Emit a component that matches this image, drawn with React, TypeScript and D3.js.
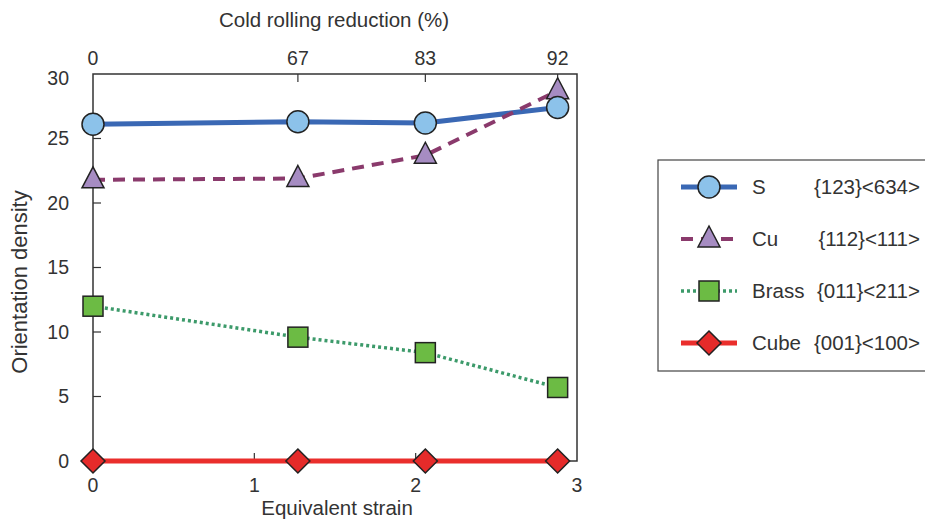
import * as d3 from "d3";

const strain = [0, 1.27, 2.06, 2.88];
const reduction = ["0", "67", "83", "92"];
const sValues = [26.1, 26.3, 26.2, 27.4];
const cuValues = [21.8, 21.9, 23.7, 28.7];
const brassValues = [12.0, 9.6, 8.4, 5.7];
const cubeValues = [0, 0, 0, 0];
const yTicks = [0, 5, 10, 15, 20, 25, 30];
const xTicks = [0, 1, 2, 3];

type Series = {
  name: string;
  code: string;
  values: number[];
  stroke: string;
  fill: string;
  width: number;
  dash?: string;
  marker: "circle" | "triangle" | "square" | "diamond";
};

const series: Series[] = [
  { name: "S", code: "{123}<634>", values: sValues, stroke: "#3a68b4", fill: "#8cc2ea", width: 5, marker: "circle" },
  { name: "Cu", code: "{112}<111>", values: cuValues, stroke: "#8a3a6c", fill: "#a68cc2", width: 4, dash: "12,8", marker: "triangle" },
  { name: "Brass", code: "{011}<211>", values: brassValues, stroke: "#3c9a6a", fill: "#6cbb44", width: 3.5, dash: "3,3", marker: "square" },
  { name: "Cube", code: "{001}<100>", values: cubeValues, stroke: "#ea2e2c", fill: "#e52b2a", width: 5, marker: "diamond" },
];

const Marker: React.FC<{ kind: Series["marker"]; x: number; y: number; fill: string }> = ({ kind, x, y, fill }) => {
  const common = { fill, stroke: "#222", strokeWidth: 1.5 };
  if (kind === "circle") return <circle cx={x} cy={y} r={11} {...common} />;
  if (kind === "square") return <rect x={x - 10} y={y - 10} width={20} height={20} {...common} />;
  if (kind === "triangle") return <path d={`M${x},${y - 13}L${x + 11},${y + 8}L${x - 11},${y + 8}Z`} {...common} />;
  return <path d={`M${x},${y - 12}L${x + 12},${y}L${x},${y + 12}L${x - 12},${y}Z`} {...common} />;
};

const App: React.FC = () => {
  const width = 925;
  const height = 519;
  const left = 93;
  const right = 577;
  const top = 74;
  const bottom = 461;
  const x = d3.scaleLinear([0, 3], [left, right]);
  const y = d3.scaleLinear([0, 30], [bottom, top]);
  const line = d3.line<number>((_, i) => x(strain[i]), (d) => y(d));
  const textColor = "#333";
  const font = "'Liberation Sans', Arial, sans-serif";
  const tickSize = 19.5;
  const drawOrder = [3, 2, 0, 1];
  const markerOrder = [3, 2, 1, 0];

  return (
    <svg width={width} height={height} style={{ position: "absolute", left: 0, top: 0 }} fontFamily={font}>
      <rect width={width} height={height} fill="white" />
      {/* frame */}
      <rect x={left} y={top} width={right - left} height={bottom - top} fill="none" stroke="#333" strokeWidth={1.5} />
      {/* left ticks */}
      {yTicks.map((t) => (
        <g key={t}>
          {t > 0 && t < 30 && <line x1={left} x2={left + 8} y1={y(t)} y2={y(t)} stroke="#333" strokeWidth={1.2} />}
          <text x={left - 24} y={t === 30 ? y(t) + 4 : y(t)} dy="0.35em" textAnchor="end" fontSize={tickSize} fill={textColor}>{t}</text>
        </g>
      ))}
      {/* bottom ticks */}
      {xTicks.map((t) => (
        <g key={t}>
          {t > 0 && t < 3 && <line x1={x(t)} x2={x(t)} y1={bottom} y2={bottom - 8} stroke="#333" strokeWidth={1.2} />}
          <text x={x(t)} y={485} dy="0.35em" textAnchor="middle" fontSize={tickSize} fill={textColor}>{t}</text>
        </g>
      ))}
      {/* top ticks */}
      {strain.map((s, i) => (
        <g key={i}>
          {i > 0 && <line x1={x(s)} x2={x(s)} y1={top} y2={top + 8} stroke="#333" strokeWidth={1.2} />}
          <text x={x(s)} y={58} dy="0.35em" textAnchor="middle" fontSize={tickSize} fill={textColor}>{reduction[i]}</text>
        </g>
      ))}
      <text x={334} y={27} textAnchor="middle" fontSize={20.5} fill={textColor}>Cold rolling reduction (%)</text>
      <text x={337} y={515} textAnchor="middle" fontSize={20.5} fill={textColor}>Equivalent strain</text>
      <text transform="translate(27,282) rotate(-90)" textAnchor="middle" fontSize={22} fill={textColor}>Orientation density</text>

      {drawOrder.map((i) => {
        const s = series[i];
        return (
          <path key={s.name} d={line(s.values) ?? undefined} fill="none" stroke={s.stroke} strokeWidth={s.width} strokeDasharray={s.dash} />
        );
      })}
      {markerOrder.map((i) => {
        const s = series[i];
        return (
          <g key={s.name}>
            {s.values.map((v, j) => (
              <Marker key={j} kind={s.marker} x={x(strain[j])} y={y(v)} fill={s.fill} />
            ))}
          </g>
        );
      })}

      {/* legend */}
      <rect x={658} y={160} width={280} height={211} fill="none" stroke="#444" strokeWidth={1.2} />
      {series.map((s, i) => {
        const ly = 187 + i * 52;
        return (
          <g key={s.name}>
            <line x1={681} x2={737} y1={ly} y2={ly} stroke={s.stroke} strokeWidth={s.width} strokeDasharray={s.dash} />
            <Marker kind={s.marker} x={709} y={ly} fill={s.fill} />
            <text x={752} y={ly} dy="0.35em" fontSize={20.5} fill={textColor}>{s.name}</text>
            <text x={920} y={ly} dy="0.35em" textAnchor="end" fontSize={20.5} fill={textColor}>{s.code}</text>
          </g>
        );
      })}
    </svg>
  );
};

export default App;
